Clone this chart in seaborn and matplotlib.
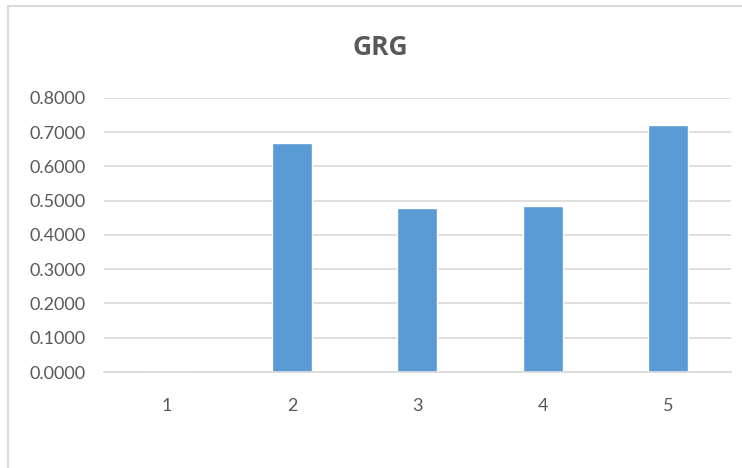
import matplotlib.pyplot as plt
import seaborn as sns
import pandas as pd
from matplotlib.patches import Rectangle

categories = ["1", "2", "3", "4", "5"]
grg_values = [0.0, 0.6676, 0.4785, 0.4844, 0.7206]
y_ticks = [0.0, 0.1, 0.2, 0.3, 0.4, 0.5, 0.6, 0.7, 0.8]

df = pd.DataFrame({"cat": categories, "grg": grg_values})

sns.set_theme(style="white")
plt.rcParams["font.family"] = ["Lato", "DejaVu Sans"]

fig = plt.figure(figsize=(7.42, 4.68), dpi=100)
ax = fig.add_axes([0.140, 0.205, 0.845, 0.586])

sns.barplot(data=df, x="cat", y="grg", order=categories, color="#5B9BD5",
            width=0.32, saturation=1, ax=ax)

ax.set_ylim(0, 0.8)
ax.set_yticks(y_ticks)
ax.set_yticklabels([f"{v:.4f}" for v in y_ticks])
ax.set_xlim(-0.5, 4.5)
ax.yaxis.grid(True, color="#D9D9D9", linewidth=1.2)
ax.set_axisbelow(True)
for s in ["top", "right", "left"]:
    ax.spines[s].set_visible(False)
ax.spines["bottom"].set_color("#D9D9D9")
ax.spines["bottom"].set_linewidth(1.2)
ax.tick_params(axis="both", length=0, labelsize=13, colors="#595959")
ax.tick_params(axis="y", pad=13)
ax.tick_params(axis="x", pad=19)
ax.set_xlabel("")
ax.set_ylabel("")

fig.text(0.513, 0.898, "GRG", ha="center", va="center", fontsize=19,
         fontweight="bold", color="#595959", family=["Open Sans", "DejaVu Sans"])

# chart area border (runs off the right and bottom edges)
fig.patches.append(Rectangle((8 / 742, -0.05), 1.1, 1 - 6 / 468 + 0.05,
                             transform=fig.transFigure, fill=False,
                             edgecolor="#D9D9D9", linewidth=1.5))

fig.savefig("out.png", dpi=100)
